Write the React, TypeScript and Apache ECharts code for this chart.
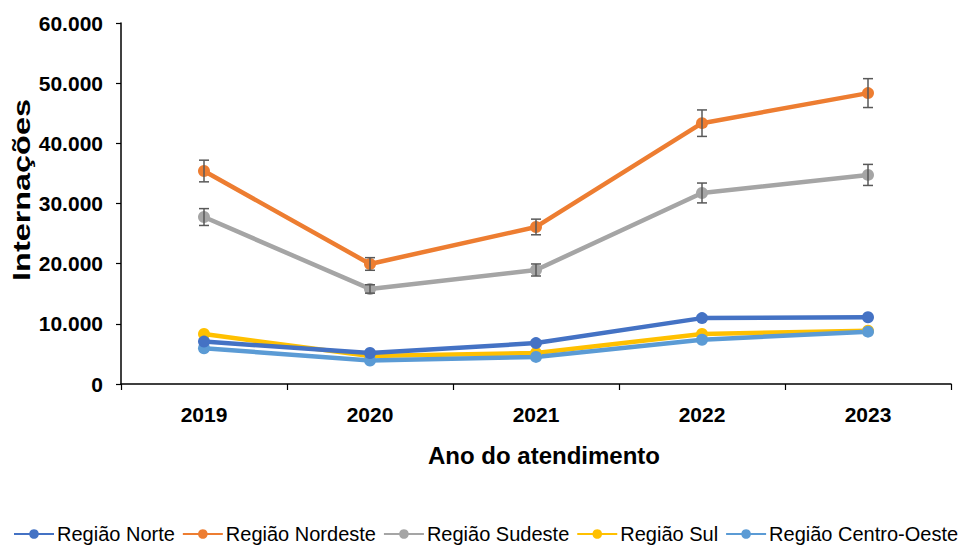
import React, { useEffect, useRef } from "react";
import * as echarts from "echarts";

const years = ["2019", "2020", "2021", "2022", "2023"];
const norte = [7050, 5150, 6800, 10950, 11100];
const nordeste = [35400, 19950, 26100, 43350, 48350];
const sudeste = [27750, 15800, 18950, 31750, 34750];
const sul = [8300, 4650, 5150, 8300, 8850];
const centroOeste = [5950, 3900, 4500, 7350, 8700];
const nordesteErr = [1800, 1050, 1300, 2200, 2400];
const sudesteErr = [1400, 700, 1000, 1650, 1750];
const yTicks = { min: 0, max: 60000, interval: 10000 };

const names = ["Região Norte", "Região Nordeste", "Região Sudeste", "Região Sul", "Região Centro-Oeste"];
const colors = ["#4472C4", "#ED7D31", "#A5A5A5", "#FFC000", "#5B9BD5"];
const seriesValues = [norte, nordeste, sudeste, sul, centroOeste];

const SANS = '"Liberation Sans", Arial, sans-serif';

function fmt(v: number) {
  return String(v).replace(/\B(?=(\d{3})+(?!\d))/g, ".");
}

function errData(vals: number[], errs: number[]) {
  return vals.map((v, i) => [i, v - errs[i], v + errs[i]]);
}

export default function App() {
  const ref = useRef<HTMLDivElement>(null);
  useEffect(() => {
    if (!ref.current) return;
    const chart = echarts.init(ref.current, undefined, { renderer: "svg" });
    const renderErr = (params: any, api: any) => {
      const x = api.value(0);
      const lo = api.coord([x, api.value(1)]);
      const hi = api.coord([x, api.value(2)]);
      const cap = 5;
      const style = { stroke: "#595959", lineWidth: 1.5 };
      return {
        type: "group",
        children: [
          { type: "line", shape: { x1: lo[0], y1: lo[1], x2: hi[0], y2: hi[1] }, style },
          { type: "line", shape: { x1: lo[0] - cap, y1: lo[1], x2: lo[0] + cap, y2: lo[1] }, style },
          { type: "line", shape: { x1: hi[0] - cap, y1: hi[1], x2: hi[0] + cap, y2: hi[1] }, style },
        ],
      };
    };
    const lineSeries = names.map((n, i) => ({
      name: n,
      type: "line",
      data: seriesValues[i],
      symbol: "circle",
      symbolSize: 12,
      lineStyle: { width: 4.5, color: colors[i] },
      itemStyle: { color: colors[i] },
      z: 2 + (i === 0 ? 1 : 0),
    }));
    chart.setOption({
      animation: false,
      color: colors,
      grid: { left: 121, right: 19, top: 23, bottom: 164, containLabel: false },
      legend: {
        data: names,
        left: 8,
        top: 519,
        width: 960,
        itemGap: 7,
        itemWidth: 40,
        itemHeight: 12,
        textStyle: { fontFamily: SANS, fontSize: 20, color: "#000", padding: [0, 0, 0, -2] },
      },
      xAxis: {
        type: "category",
        data: years,
        boundaryGap: true,
        axisLine: { lineStyle: { color: "#000", width: 1.5 } },
        axisTick: { show: true, length: 6, lineStyle: { color: "#000", width: 1.2 } },
        axisLabel: { fontFamily: SANS, fontWeight: "bold", fontSize: 21, color: "#000", margin: 20 },
        name: "Ano do atendimento",
        nameLocation: "middle",
        nameGap: 59,
        nameTextStyle: { fontFamily: SANS, fontWeight: "bold", fontSize: 24, color: "#000", padding: [0, 0, 0, 16] },
      },
      yAxis: {
        type: "value",
        min: yTicks.min,
        max: yTicks.max,
        interval: yTicks.interval,
        splitLine: { show: false },
        axisLine: { show: true, lineStyle: { color: "#000", width: 1.5 } },
        axisTick: { show: true, length: 5, lineStyle: { color: "#000", width: 1.2 } },
        axisLabel: { fontFamily: SANS, fontWeight: "bold", fontSize: 21, color: "#000", margin: 18, formatter: (v: number) => fmt(v) },
      },
      graphic: [
        {
          type: "group",
          x: 22,
          y: 190,
          rotation: Math.PI / 2,
          children: [
            {
              type: "text",
              x: 0,
              y: 0,
              scaleX: 1.35,
              style: {
                text: "Internações",
                font: `bold 24px ${SANS}`,
                fill: "#000",
                align: "center",
                verticalAlign: "middle",
              },
            },
          ],
        },
      ],
      series: [
        ...lineSeries,
        {
          name: "errNordeste",
          type: "custom",
          data: errData(nordeste, nordesteErr),
          encode: { x: 0, y: [1, 2] },
          renderItem: renderErr,
          z: 10,
        },
        {
          name: "errSudeste",
          type: "custom",
          data: errData(sudeste, sudesteErr),
          encode: { x: 0, y: [1, 2] },
          renderItem: renderErr,
          z: 10,
        },
      ],
    });
    return () => chart.dispose();
  }, []);
  return <div ref={ref} style={{ width: 970, height: 548, position: "absolute", left: 0, top: 0 }} />;
}
